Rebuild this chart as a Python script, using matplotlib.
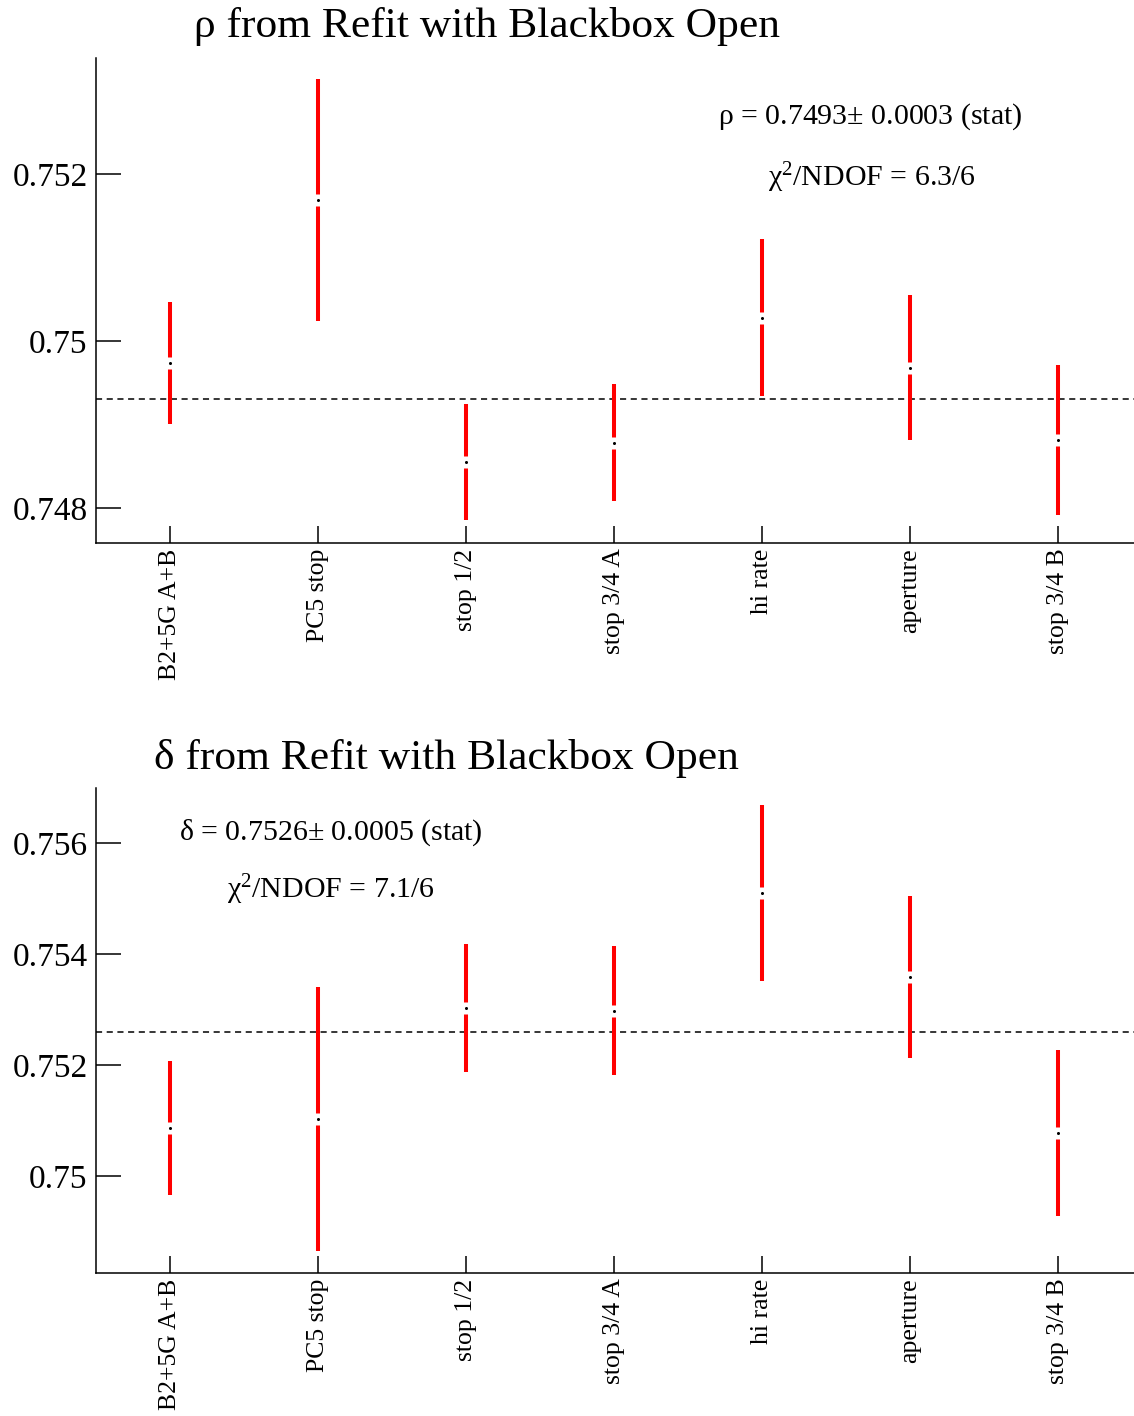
import matplotlib
matplotlib.use("Agg")
import matplotlib.pyplot as plt
import numpy as np

plt.rcParams['font.family'] = ['Liberation Serif', 'DejaVu Serif']
plt.rcParams['mathtext.fontset'] = 'custom'
plt.rcParams['mathtext.rm'] = 'Liberation Serif'
plt.rcParams['mathtext.it'] = 'Liberation Serif:italic'

categories = ["B2+5G A+B", "PC5 stop", "stop 1/2", "stop 3/4 A", "hi rate", "aperture", "stop 3/4 B"]

rho_values = [0.74974, 0.75169, 0.74855, 0.74878, 0.75028, 0.74968, 0.74881]
rho_errors = [0.00073, 0.00145, 0.00070, 0.00070, 0.00094, 0.00087, 0.00090]
rho_mean = 0.7493
rho_yticks = [0.748, 0.750, 0.752]
rho_yticklabels = ["0.748", "0.75", "0.752"]

delta_values = [0.75086, 0.75103, 0.75303, 0.75298, 0.75510, 0.75359, 0.75077]
delta_errors = [0.00121, 0.00238, 0.00115, 0.00116, 0.00159, 0.00146, 0.00150]
delta_mean = 0.7526
delta_yticks = [0.750, 0.752, 0.754, 0.756]
delta_yticklabels = ["0.75", "0.752", "0.754", "0.756"]

W, H = 1134, 1416
fig = plt.figure(figsize=(W / 100, H / 100), dpi=100)


def px(x, y):
    return x / W, 1 - y / H


def panel(rect, vals, errs, mean, yticks, yticklabels, ylim):
    ax = fig.add_axes(rect)
    x = np.arange(1, len(categories) + 1)
    ax.errorbar(x, vals, yerr=errs, fmt='none', ecolor='#ff0000',
                elinewidth=2.9, capsize=0, zorder=2)
    ax.plot(x, vals, linestyle='none', marker='s', markersize=8.5,
            markerfacecolor='white', markeredgecolor='none', zorder=3)
    ax.plot(x, vals, linestyle='none', marker='o', markersize=2.2,
            markerfacecolor='black', markeredgecolor='none', zorder=4)
    ax.axhline(mean, color='black', linestyle=(0, (4, 3)), linewidth=1.1, zorder=1)
    ax.set_xlim(0.5, 7.51)
    ax.set_ylim(*ylim)
    ax.set_xticks(x)
    ax.set_xticklabels(categories, rotation=90, fontsize=18.5)
    ax.set_yticks(yticks)
    ax.set_yticklabels(yticklabels, fontsize=24)
    ax.tick_params(axis='y', direction='in', length=18, width=1.1, pad=6)
    ax.tick_params(axis='x', direction='in', length=12.5, width=1.1, pad=4)
    for s in ['top', 'right']:
        ax.spines[s].set_visible(False)
    for s in ['left', 'bottom']:
        ax.spines[s].set_linewidth(1.1)
    return ax


ax1 = panel([96 / W, 1 - 543 / H, 1 - 96 / W, 485 / H], rho_values, rho_errors,
            rho_mean, rho_yticks, rho_yticklabels, (0.74758, 0.75339))
ax2 = panel([96 / W, 1 - 1273 / H, 1 - 96 / W, 485 / H], delta_values, delta_errors,
            delta_mean, delta_yticks, delta_yticklabels, (0.74825, 0.75699))

fig.text(*px(487, 26), "ρ from Refit with Blackbox Open", fontsize=31.3, ha='center', va='center')
fig.text(*px(446, 758), "δ from Refit with Blackbox Open", fontsize=31.3, ha='center', va='center')

fig.text(*px(870, 117), "ρ = 0.7493$\\pm$ 0.0003 (stat)", fontsize=21.5, ha='center', va='center')
fig.text(*px(872, 178), "χ$^2$/NDOF = 6.3/6", fontsize=21.5, ha='center', va='center')
fig.text(*px(331, 833), "δ = 0.7526$\\pm$ 0.0005 (stat)", fontsize=21.5, ha='center', va='center')
fig.text(*px(331, 890), "χ$^2$/NDOF = 7.1/6", fontsize=21.5, ha='center', va='center')

fig.savefig("out.png", dpi=100)
